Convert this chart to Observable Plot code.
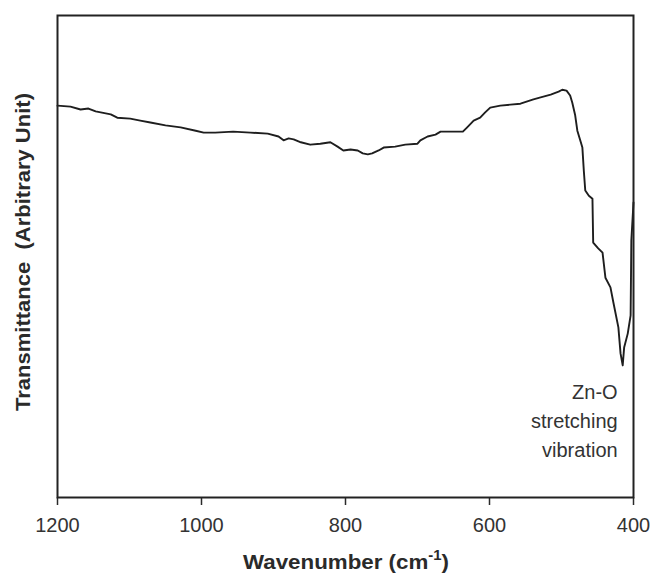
<!DOCTYPE html>
<html>
<head>
<meta charset="utf-8">
<script src="https://cdn.jsdelivr.net/npm/d3@7"></script>
<script src="https://cdn.jsdelivr.net/npm/@observablehq/plot@0.6"></script>
<style>
  html, body { margin: 0; padding: 0; background: #fff; }
  #chart { width: 654px; height: 579px; }
</style>
</head>
<body>
<div id="chart"></div>
<script>
// Wavenumber (cm-1)
const wavenumber = [1200,1182,1168,1157,1147,1140,1126,1117,1099,1085,1071,1050,1029,1008,997,981,956,932,908,893,886,879,872,862,849,835,821,811,803,793,783,776,769,763,754,747,731,717,700,696,686,675,668,637,631,622,613,606,599,585,571,557,539,529,515,504,499,493,488,485,481,478,474,471,469,467,462,457,456,449,443,439,432,428,421,418,415,413,408,404,403,400];
// Transmittance (arbitrary units)
const transmittance = [81.3,81.1,80.5,80.7,80.1,79.9,79.5,78.8,78.6,78.2,77.8,77.2,76.8,76.1,75.7,75.7,75.9,75.7,75.5,74.9,74.1,74.5,74.3,73.7,73.2,73.4,73.7,72.8,72.0,72.2,72.0,71.4,71.2,71.4,72.0,72.6,72.8,73.2,73.4,74.1,74.9,75.3,75.9,75.9,76.8,78.2,78.8,79.9,80.9,81.3,81.5,81.7,82.6,83.0,83.6,84.2,84.6,84.4,83.4,81.9,79.3,76.1,74.1,72.6,67.8,63.7,62.6,62.0,52.9,51.7,50.8,45.6,43.6,40.5,35.3,29.9,27.4,31.1,34.0,37.8,53.3,61.2];
const xTicks = [1200, 1000, 800, 600, 400];
const annotationText = ["Zn-O\nstretching\nvibration"];
const annotationX = [422];
const annotationY = [16.4];
const xTitle = "Wavenumber (cm";
const xTitleSup = "-1";
const yTitle = "Transmittance  (Arbitrary Unit)";

const spectrum = wavenumber.map((w, i) => ({w, t: transmittance[i]}));
const annotation = annotationText.map((s, i) => ({s, x: annotationX[i], y: annotationY[i]}));

const font = "'Liberation Sans', Arial, Helvetica, sans-serif";

const chart = Plot.plot({
  width: 654,
  height: 579,
  marginLeft: 57,
  marginRight: 21,
  marginTop: 15,
  marginBottom: 82,
  style: { fontFamily: font, color: "#2a2a2a", background: "#fff" },
  x: { domain: [1200, 400], axis: null },
  y: { domain: [0, 100], axis: null },
  marks: [
    Plot.axisX({ ticks: xTicks, tickSize: 8, tickPadding: 12, fontSize: 20, label: null, tickFormat: d => String(d), strokeWidth: 1.5, fill: "#333" }),
    Plot.line(spectrum, { x: "w", y: "t", stroke: "#1e1e1e", strokeWidth: 1.9, curve: "linear" }),
    Plot.text(annotation, { x: "x", y: "y", text: "s", textAnchor: "end", lineAnchor: "middle", lineHeight: 1.45, fontSize: 20, fill: "#333" }),
    Plot.frame({ stroke: "#222", strokeWidth: 2 })
  ]
});

const svg = d3.select(chart);
const xt = svg.append("text")
  .attr("x", 346).attr("y", 569)
  .attr("text-anchor", "middle")
  .attr("font-family", font).attr("font-size", 21).attr("font-weight", "bold")
  .attr("fill", "#2a2a2a")
  .attr("textLength", 206).attr("lengthAdjust", "spacingAndGlyphs");
xt.append("tspan").text(xTitle);
xt.append("tspan").attr("font-size", 14).attr("dy", -9).text(xTitleSup);
xt.append("tspan").attr("dy", 9).text(")");

svg.append("text")
  .attr("transform", "translate(30,252) rotate(-90)")
  .attr("text-anchor", "middle")
  .attr("font-family", font).attr("font-size", 21).attr("font-weight", "bold")
  .attr("fill", "#2a2a2a")
  .attr("textLength", 318).attr("lengthAdjust", "spacingAndGlyphs")
  .style("white-space", "pre")
  .text(yTitle);

document.getElementById("chart").appendChild(chart);
</script>
</body>
</html>
